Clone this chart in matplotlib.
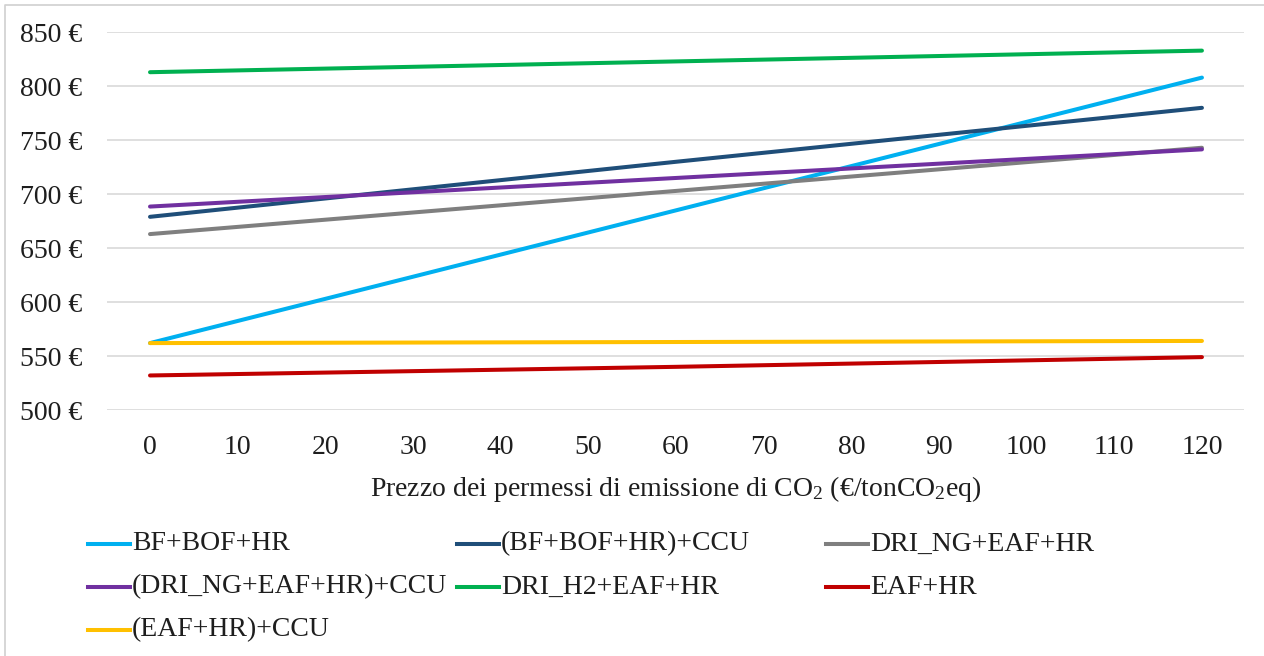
import matplotlib
matplotlib.use("Agg")
import matplotlib.pyplot as plt
from matplotlib.lines import Line2D

plt.rcParams['font.family'] = ['Liberation Serif', 'DejaVu Serif']
plt.rcParams['mathtext.fontset'] = 'custom'
plt.rcParams['mathtext.rm'] = 'Liberation Serif'
plt.rcParams['mathtext.it'] = 'Liberation Serif:italic'

# prezzo CO2 (€/tonCO2eq)
prezzo = [0, 60, 120]

bf_bof_hr = [562, 685, 808]
bf_bof_hr_ccu = [679, 730, 780]
dri_ng = [663, 703, 743]
dri_ng_ccu = [688.5, 715, 741.5]
dri_h2 = [813, 823, 833]
eaf_hr = [532, 540, 549]
eaf_hr_ccu = [562, 563, 564]

nomi = ['BF+BOF+HR', '(BF+BOF+HR)+CCU', 'DRI_NG+EAF+HR',
        '(DRI_NG+EAF+HR)+CCU', 'DRI_H2+EAF+HR', 'EAF+HR', '(EAF+HR)+CCU']
serie = [bf_bof_hr, bf_bof_hr_ccu, dri_ng, dri_ng_ccu, dri_h2, eaf_hr, eaf_hr_ccu]
colori = ['#00B0F0', '#1F4E79', '#7F7F7F', '#7030A0', '#00B050', '#C00000', '#FFC000']

x_ticks = list(range(0, 130, 10))
y_ticks = list(range(500, 900, 50))

fig = plt.figure(figsize=(12.64, 6.56), dpi=100)
ax = fig.add_axes([0.0847, 0.375, 0.8995, 0.5758])

for vals, c in zip(serie, colori):
    ax.plot(prezzo, vals, color=c, lw=2.9, solid_capstyle='round')

ax.set_xlim(-4.9, 124.8)
ax.set_ylim(500, 850)
ax.set_xticks(x_ticks)
ax.set_yticks(y_ticks)
ax.set_yticklabels([f'{v} €' for v in y_ticks])
ax.grid(axis='y', color='#d9d9d9', lw=1.2)
ax.set_axisbelow(True)
for s in ax.spines.values():
    s.set_visible(False)
ax.tick_params(length=0, labelsize=20, colors='#1e1e1e')
ax.tick_params(axis='y', pad=18)
ax.tick_params(axis='x', pad=18)
ax.set_xlabel('Prezzo dei permessi di emissione di CO$_2$ (€/tonCO$_2$eq)',
              fontsize=20, color='#1e1e1e', labelpad=10)

# legenda (Excel, riempita per righe)
col_x = [88, 457, 826]
row_y = [544, 587, 630]
W, H = 1264, 656
for i, (nome, c) in enumerate(zip(nomi, colori)):
    r, k = divmod(i, 3)
    x0 = col_x[k] / W
    y0 = 1 - row_y[r] / H
    fig.add_artist(Line2D([x0, x0 + 42 / W], [y0, y0], color=c, lw=2.9,
                          transform=fig.transFigure))
    fig.text(x0 + 44 / W, y0, nome, fontsize=20, va='center', ha='left',
             color='#1e1e1e')

# bordo del grafico
fig.add_artist(Line2D([5 / W, 5 / W, 1], [0, 1 - 5 / H, 1 - 5 / H],
                      color='#d0d0d0', lw=1.2, transform=fig.transFigure))

fig.savefig('out.png', dpi=100)
